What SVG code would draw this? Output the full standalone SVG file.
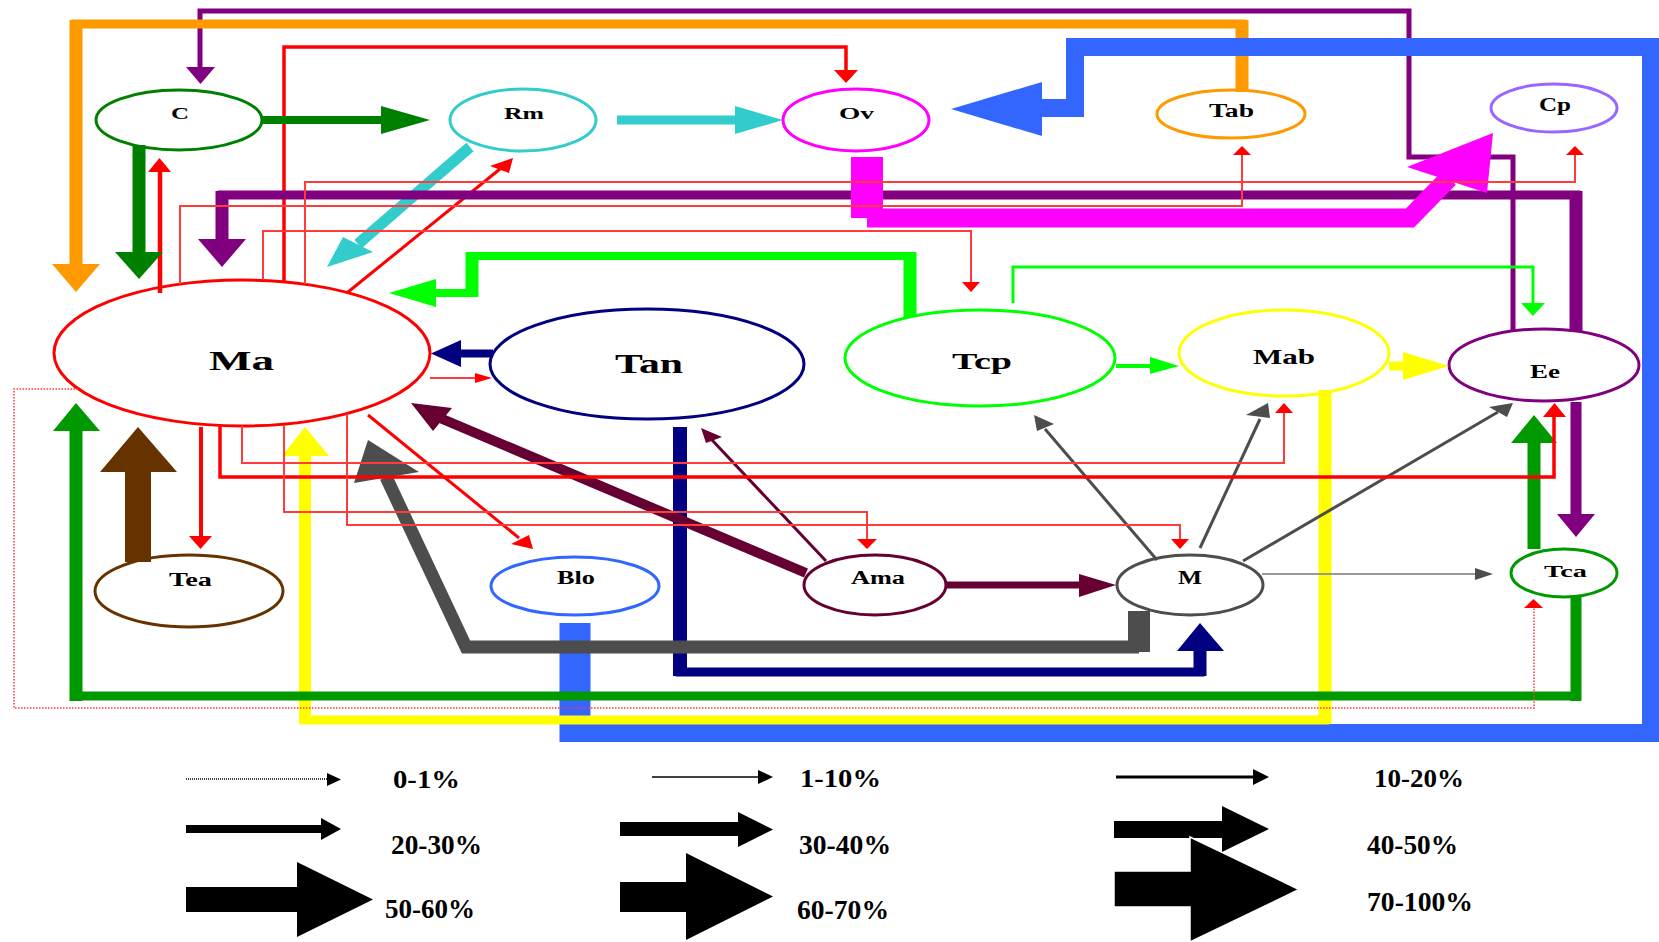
<svg xmlns="http://www.w3.org/2000/svg" width="1659" height="942" viewBox="0 0 1659 942">
<style>
.nd{fill:#fff;stroke-width:3}
.lb{font-family:"Liberation Serif","Times New Roman",serif;font-weight:bold;fill:#000}
.lg{font-family:"Liberation Serif","Times New Roman",serif;font-weight:bold;fill:#000}
#connectors path{fill:none;stroke-linejoin:miter;stroke-linecap:butt}
.purple path{stroke:#800080}.purple polygon{fill:#800080}
.orange path{stroke:#FF9900}.orange polygon{fill:#FF9900}
.red path{stroke:#FF0000}.red polygon{fill:#FF0000}
.redl path{stroke:#FF3B3B}.redl polygon{fill:#FF0000}
.dgreen path{stroke:#008000}.dgreen polygon{fill:#008000}
.green path{stroke:#009900}.green polygon{fill:#009900}
.turq path{stroke:#33CCCC}.turq polygon{fill:#33CCCC}
.mag path{stroke:#FF00FF}.mag polygon{fill:#FF00FF}
.blue path{stroke:#3366FF}.blue polygon{fill:#3366FF}
.yellow path{stroke:#FFFF00}.yellow polygon{fill:#FFFF00}
.lime path{stroke:#00FF00}.lime polygon{fill:#00FF00}
.navy path{stroke:#000080}.navy polygon{fill:#000080}
.grey path{stroke:#4D4D4D}.grey polygon{fill:#4D4D4D}
.maroon path{stroke:#660033}.maroon polygon{fill:#660033}
.brown path{stroke:#663300}.brown polygon{fill:#663300}
.lgd path{fill:none;stroke:#000}
.lgd polygon,.lgd rect{fill:#000}
</style>
<rect width="1659" height="942" fill="#fff"/>

<g id="nodes">
<g id="node-C"><ellipse class="nd" cx="179" cy="120" rx="83" ry="30" stroke="#008000"/><text class="lb" x="171" y="119" font-size="17" textLength="18" lengthAdjust="spacingAndGlyphs">C</text></g>
<g id="node-Rm"><ellipse class="nd" cx="523" cy="120" rx="73" ry="31" stroke="#33CCCC"/><text class="lb" x="504" y="119" font-size="17" textLength="40" lengthAdjust="spacingAndGlyphs">Rm</text></g>
<g id="node-Ov"><ellipse class="nd" cx="856" cy="120" rx="73" ry="31" stroke="#FF00FF"/><text class="lb" x="839" y="119" font-size="17" textLength="35" lengthAdjust="spacingAndGlyphs">Ov</text></g>
<g id="node-Tab"><ellipse class="nd" cx="1231" cy="114" rx="74" ry="24" stroke="#FF9900"/><text class="lb" x="1209" y="117" font-size="18" textLength="45" lengthAdjust="spacingAndGlyphs">Tab</text></g>
<g id="node-Cp"><ellipse class="nd" cx="1554" cy="108" rx="63" ry="24" stroke="#9966FF"/><text class="lb" x="1539" y="111" font-size="18" textLength="32" lengthAdjust="spacingAndGlyphs">Cp</text></g>
<g id="node-Ma"><ellipse class="nd" cx="242" cy="353" rx="188" ry="73" stroke="#FF0000"/><text class="lb" x="209" y="370" font-size="27" textLength="65" lengthAdjust="spacingAndGlyphs">Ma</text></g>
<g id="node-Tan"><ellipse class="nd" cx="647" cy="364" rx="157" ry="55" stroke="#000080"/><text class="lb" x="615" y="373" font-size="27" textLength="68" lengthAdjust="spacingAndGlyphs">Tan</text></g>
<g id="node-Tcp"><ellipse class="nd" cx="980" cy="358" rx="135" ry="48" stroke="#00FF00"/><text class="lb" x="952" y="369" font-size="24" textLength="60" lengthAdjust="spacingAndGlyphs">Tcp</text></g>
<g id="node-Mab"><ellipse class="nd" cx="1284" cy="353" rx="105" ry="43" stroke="#FFFF00"/><text class="lb" x="1253" y="364" font-size="21" textLength="62" lengthAdjust="spacingAndGlyphs">Mab</text></g>
<g id="node-Ee"><ellipse class="nd" cx="1544" cy="365" rx="95" ry="36" stroke="#800080"/><text class="lb" x="1530" y="378" font-size="18" textLength="30" lengthAdjust="spacingAndGlyphs">Ee</text></g>
<g id="node-Tea"><ellipse class="nd" cx="189" cy="591" rx="94" ry="36" stroke="#663300"/><text class="lb" x="169" y="586" font-size="18" textLength="43" lengthAdjust="spacingAndGlyphs">Tea</text></g>
<g id="node-Blo"><ellipse class="nd" cx="575" cy="586" rx="84" ry="29" stroke="#3366FF"/><text class="lb" x="557" y="584" font-size="18" textLength="38" lengthAdjust="spacingAndGlyphs">Blo</text></g>
<g id="node-Ama"><ellipse class="nd" cx="875" cy="585" rx="71" ry="30" stroke="#660033"/><text class="lb" x="851" y="584" font-size="18" textLength="54" lengthAdjust="spacingAndGlyphs">Ama</text></g>
<g id="node-M"><ellipse class="nd" cx="1190" cy="585" rx="73" ry="30" stroke="#4D4D4D"/><text class="lb" x="1178" y="584" font-size="18" textLength="24" lengthAdjust="spacingAndGlyphs">M</text></g>
<g id="node-Tca"><ellipse class="nd" cx="1564" cy="573" rx="53" ry="24" stroke="#009900"/><text class="lb" x="1544" y="577" font-size="17" textLength="43" lengthAdjust="spacingAndGlyphs">Tca</text></g>
</g>

<g id="connectors">
<g id="e-Ee-C" class="purple"><path d="M1513,330 V157 H1409 V11 H200 V68" stroke-width="5"/><polygon points="186,67 215,67 200.5,84"/></g>
<g id="e-Tab-Ma" class="orange"><path d="M1242,90 V24 H76 V265" stroke-width="9"/><path d="M1242,92 V20" stroke-width="13"/><path d="M76,20 V265" stroke-width="13"/><polygon points="52,264 100,264 76,292"/></g>
<g id="e-Ma-Ov" class="red"><path d="M284,281 V47 H846 V71" stroke-width="3.5"/><polygon points="834,70 858,70 846,83"/></g>
<g id="e-Ma-C" class="red"><path d="M160,293 V171" stroke-width="4.5"/><polygon points="148,172 171,172 159.5,158"/></g>
<g id="e-C-Ma" class="dgreen"><path d="M139,145 V253" stroke-width="13"/><polygon points="115,252 163,252 139,279"/></g>
<g id="e-C-Rm" class="dgreen"><path d="M262,120 H382" stroke-width="8"/><polygon points="381,106 381,134 430,120"/></g>
<g id="e-Rm-Ov" class="turq"><path d="M617,120 H736" stroke-width="9"/><polygon points="735,106 735,134 783,120"/></g>
<g id="e-Rm-Ma" class="turq"><path d="M470,147 L358,244" stroke-width="11"/><polygon points="327,267 373,252 343,237"/></g>
<g id="e-Ma-Rm" class="red"><path d="M348,292 L500,169" stroke-width="3"/><polygon points="513,158 490,166 509,173"/></g>
<g id="e-Ee-Ma" class="purple"><path d="M1576,332 V195 H222 V240" stroke-width="9"/><path d="M1576,332 V191" stroke-width="13"/><path d="M222,191 V240" stroke-width="13"/><polygon points="198,239 246,239 222,267"/></g>
<g id="e-Ee-Tca" class="purple"><path d="M1576,402 V515" stroke-width="11"/><polygon points="1557,514 1595,514 1576,537"/></g>
<g id="e-Ov-Cp" class="mag"><path d="M867,157 V218" stroke-width="32"/><path d="M867,218 H1410 L1449,178" stroke-width="19"/><polygon points="1493,133 1407,167 1487,193"/></g>
<g id="e-Blo-Ov" class="blue"><path d="M575,623 V742" stroke-width="31"/><path d="M575,733 H1651 V47 H1075 V108 H1042" stroke-width="18"/><polygon points="951,109 1042,82 1042,136"/></g>
<g id="e-Mab-Ma" class="yellow"><path d="M1325,390 V720 H305 V456" stroke-width="9"/><path d="M1325,390 V724" stroke-width="13"/><path d="M305,724 V456" stroke-width="12"/><polygon points="282,456 329,456 305,427"/></g>
<g id="e-Mab-Ee" class="yellow"><path d="M1389,366 H1404" stroke-width="9"/><polygon points="1403,352 1403,380 1449,366"/></g>
<g id="e-Tcp-Mab" class="lime"><path d="M1116,366 H1151" stroke-width="4"/><polygon points="1150,357 1150,374 1179,366"/></g>
<g id="e-Tcp-Ma" class="lime"><path d="M910,317 V256 H472 V293 H436" stroke-width="8"/><path d="M910,317 V252" stroke-width="13"/><path d="M472,252 V297" stroke-width="13"/><polygon points="436,279 436,307 389,293"/></g>
<g id="e-Tcp-Ee" class="lime"><path d="M1013,303 V267 H1533 V304" stroke-width="3"/><polygon points="1521,303 1545,303 1533,316"/></g>
<g id="e-Tan-Ma" class="navy"><path d="M493,353.5 H460" stroke-width="8"/><polygon points="461,340 461,367 431,353.5"/></g>
<g id="e-Ma-Tan" class="redl"><path d="M430,378 H476" stroke-width="2"/><polygon points="475,373 475,383 492,378"/></g>
<g id="e-Tan-M" class="navy"><path d="M680,427 V672 H1200 V651" stroke-width="9"/><path d="M680,427 V676" stroke-width="14"/><path d="M1200,676 V651" stroke-width="13"/><polygon points="1177,651 1224,651 1200,623"/></g>
<g id="e-M-Ma" class="grey"><path d="M1139,611 V652" stroke-width="22"/><path d="M1139,647 H466 L386,477" stroke-width="13"/><polygon points="368,440 354,483 419,472"/></g>
<g id="e-Ama-Ma" class="maroon"><path d="M806,573 L440,418" stroke-width="10"/><polygon points="411,403 433,431 452,408"/></g>
<g id="e-Ama-Tan" class="maroon"><path d="M826,561 L712,440" stroke-width="3"/><polygon points="701,428 722,437 706,443"/></g>
<g id="e-Ama-M" class="maroon"><path d="M946,585 H1080" stroke-width="7"/><polygon points="1079,574 1079,597 1116,585"/></g>
<g id="e-M-Tcp" class="grey"><path d="M1157,560 L1045,429" stroke-width="3"/><polygon points="1034,415 1054,424 1037,431"/></g>
<g id="e-M-Mab" class="grey"><path d="M1200,548 L1260,419" stroke-width="3"/><polygon points="1268,403 1246,415 1270,418"/></g>
<g id="e-M-Ee" class="grey"><path d="M1243,561 L1498,412" stroke-width="3"/><polygon points="1513,403 1489,407 1507,417"/></g>
<g id="e-M-Tca" class="grey"><path d="M1262,574 H1476" stroke-width="2" style="stroke:#999999"/><polygon points="1475,568 1475,580 1493,574"/></g>
<g id="e-Tca-Ee" class="green"><path d="M1534,549 V443" stroke-width="13"/><polygon points="1511,443 1557,443 1534,415"/></g>
<g id="e-Tca-Ma" class="green"><path d="M1576,597 V696 H76 V431" stroke-width="9"/><path d="M1576,597 V701" stroke-width="11"/><path d="M76,701 V431" stroke-width="13"/><polygon points="53,431 100,431 76,403"/></g>
<g id="e-Tea-Ma" class="brown"><path d="M138,562 V471" stroke-width="26"/><polygon points="100,472 177,472 138,427"/></g>
<g id="e-Ma-Tea" class="red"><path d="M201,427 V537" stroke-width="4"/><polygon points="189,536 212,536 200.5,549"/></g>
<g id="e-Ma-Blo" class="red"><path d="M368,415 L519,538" stroke-width="3"/><polygon points="533,549 511,544 529,535"/></g>
<g id="e-Ma-Ee" class="red"><path d="M220,426 V477 H1554 V416" stroke-width="3.5"/><polygon points="1543,417 1566,417 1554.5,403"/></g>
<g id="e-Ma-Mab" class="redl"><path d="M242,426 V463 H1284 V413" stroke-width="2"/><polygon points="1275,413 1293,413 1284,403"/></g>
<g id="e-Ma-Ama" class="redl"><path d="M284,425 V512 H867 V539" stroke-width="2"/><polygon points="857,539 877,539 867,549"/></g>
<g id="e-Ma-M" class="redl"><path d="M347,414 V525 H1180 V539" stroke-width="2"/><polygon points="1171,539 1189,539 1180,549"/></g>
<g id="e-Ma-Tca" class="redl"><path d="M78,389 H14 V708 H1534 V608" stroke-width="1.5" stroke-dasharray="1.5 1.5"/><polygon points="1524,608 1543,608 1533.5,599"/></g>
<g id="e-Ma-Tab" class="redl"><path d="M180,284 V206 H1242 V155" stroke-width="2"/><polygon points="1233,155 1251,155 1242,146"/></g>
<g id="e-Ma-Cp" class="redl"><path d="M305,284 V182 H1575 V155" stroke-width="2"/><polygon points="1566,155 1584,155 1575,146"/></g>
<g id="e-Ma-Tcp" class="redl"><path d="M263,280 V231 H971 V282" stroke-width="2"/><polygon points="962,282 980,282 971,292"/></g>
</g>

<g id="legend" class="lgd">
<path d="M186,779 H328" stroke-width="1.5" stroke-dasharray="1 1"/><polygon points="327,773 327,786 341,779.5"/>
<path d="M652,777 H759" stroke-width="1.5"/><polygon points="758,770 758,784 773,777"/>
<path d="M1116,777 H1254" stroke-width="3"/><polygon points="1253,769 1253,785 1269,777"/>
<rect x="186" y="825" width="136" height="8"/><polygon points="321,818 321,840 341,829"/>
<rect x="620" y="822" width="119" height="14"/><polygon points="738,812 738,847 773,829.5"/>
<rect x="1114" y="821" width="109" height="17"/><polygon points="1222,806 1222,852 1269,829"/>
<rect x="186" y="887" width="112" height="25"/><polygon points="297,862 297,937 373,899.5"/>
<rect x="620" y="882" width="67" height="30"/><polygon points="686,853 686,940 773,896.5"/>
<polygon points="1114,871 1190,871 1190,837 1299,889.5 1190,942 1190,907 1114,907" style="stroke:#fff;stroke-width:1.5"/>
<text class="lg" x="393" y="788" font-size="25" textLength="67" lengthAdjust="spacingAndGlyphs">0-1%</text>
<text class="lg" x="800" y="787" font-size="25" textLength="81" lengthAdjust="spacingAndGlyphs">1-10%</text>
<text class="lg" x="1374" y="787" font-size="25" textLength="90" lengthAdjust="spacingAndGlyphs">10-20%</text>
<text class="lg" x="391" y="854" font-size="27" textLength="91" lengthAdjust="spacingAndGlyphs">20-30%</text>
<text class="lg" x="799" y="854" font-size="27" textLength="92" lengthAdjust="spacingAndGlyphs">30-40%</text>
<text class="lg" x="1367" y="854" font-size="27" textLength="91" lengthAdjust="spacingAndGlyphs">40-50%</text>
<text class="lg" x="385" y="918" font-size="27" textLength="90" lengthAdjust="spacingAndGlyphs">50-60%</text>
<text class="lg" x="797" y="919" font-size="27" textLength="92" lengthAdjust="spacingAndGlyphs">60-70%</text>
<text class="lg" x="1367" y="911" font-size="27" textLength="106" lengthAdjust="spacingAndGlyphs">70-100%</text>
</g>
</svg>
